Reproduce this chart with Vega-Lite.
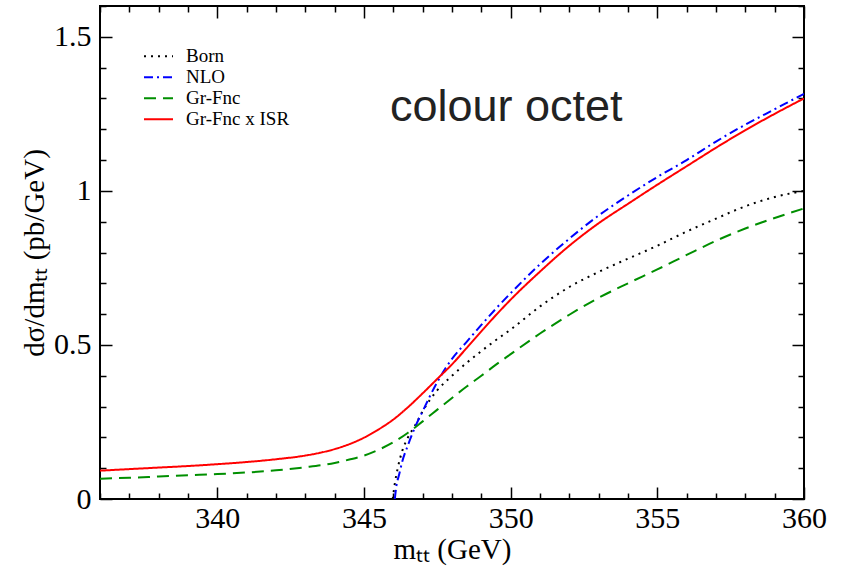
{
  "$schema": "https://vega.github.io/schema/vega-lite/v6.json",
  "autosize": {"type": "none"},
  "width": 704,
  "height": 493,
  "padding": {"left": 100, "top": 6, "right": 39, "bottom": 71},
  "background": "white",
  "config": {
    "view": {"stroke": "black", "strokeWidth": 2},
    "axis": {"grid": false, "domain": false, "tickColor": "black", "tickWidth": 1.5,
             "labelFont": "Liberation Serif", "labelFontSize": 30, "labelColor": "black",
             "titleFont": "Liberation Serif", "titleFontSize": 29, "titleFontWeight": "normal", "titleColor": "black"},
    "legend": {"labelFont": "Liberation Serif", "labelFontSize": 19, "labelColor": "black"}
  },
  "datasets": {
    "curves": [
      {"series": "Born", "m": 345.98, "v": 0.0},
      {"series": "Born", "m": 346.05, "v": 0.05},
      {"series": "Born", "m": 346.15, "v": 0.10},
      {"series": "Born", "m": 346.3, "v": 0.155},
      {"series": "Born", "m": 346.5, "v": 0.20},
      {"series": "Born", "m": 346.75, "v": 0.24},
      {"series": "Born", "m": 347.0, "v": 0.285},
      {"series": "Born", "m": 347.5, "v": 0.353},
      {"series": "Born", "m": 348.0, "v": 0.40},
      {"series": "Born", "m": 348.5, "v": 0.442},
      {"series": "Born", "m": 349.0, "v": 0.48},
      {"series": "Born", "m": 349.5, "v": 0.516},
      {"series": "Born", "m": 350.0, "v": 0.55},
      {"series": "Born", "m": 351.0, "v": 0.625},
      {"series": "Born", "m": 352.0, "v": 0.688},
      {"series": "Born", "m": 353.0, "v": 0.737},
      {"series": "Born", "m": 354.0, "v": 0.78},
      {"series": "Born", "m": 355.0, "v": 0.822},
      {"series": "Born", "m": 356.0, "v": 0.868},
      {"series": "Born", "m": 357.0, "v": 0.91},
      {"series": "Born", "m": 358.0, "v": 0.95},
      {"series": "Born", "m": 359.0, "v": 0.98},
      {"series": "Born", "m": 360.0, "v": 1.0},

      {"series": "NLO", "m": 346.05, "v": 0.0},
      {"series": "NLO", "m": 346.1, "v": 0.04},
      {"series": "NLO", "m": 346.2, "v": 0.08},
      {"series": "NLO", "m": 346.3, "v": 0.12},
      {"series": "NLO", "m": 346.5, "v": 0.175},
      {"series": "NLO", "m": 346.75, "v": 0.235},
      {"series": "NLO", "m": 347.0, "v": 0.285},
      {"series": "NLO", "m": 347.5, "v": 0.38},
      {"series": "NLO", "m": 348.0, "v": 0.455},
      {"series": "NLO", "m": 348.5, "v": 0.51},
      {"series": "NLO", "m": 349.0, "v": 0.565},
      {"series": "NLO", "m": 349.5, "v": 0.618},
      {"series": "NLO", "m": 350.0, "v": 0.668},
      {"series": "NLO", "m": 351.0, "v": 0.762},
      {"series": "NLO", "m": 352.0, "v": 0.845},
      {"series": "NLO", "m": 353.0, "v": 0.92},
      {"series": "NLO", "m": 354.0, "v": 0.985},
      {"series": "NLO", "m": 355.0, "v": 1.045},
      {"series": "NLO", "m": 356.0, "v": 1.10},
      {"series": "NLO", "m": 357.0, "v": 1.16},
      {"series": "NLO", "m": 358.0, "v": 1.215},
      {"series": "NLO", "m": 359.0, "v": 1.265},
      {"series": "NLO", "m": 360.0, "v": 1.315},

      {"series": "Gr-Fnc", "m": 336.0, "v": 0.066},
      {"series": "Gr-Fnc", "m": 337.0, "v": 0.069},
      {"series": "Gr-Fnc", "m": 338.0, "v": 0.073},
      {"series": "Gr-Fnc", "m": 339.0, "v": 0.077},
      {"series": "Gr-Fnc", "m": 340.0, "v": 0.081},
      {"series": "Gr-Fnc", "m": 341.0, "v": 0.086},
      {"series": "Gr-Fnc", "m": 342.0, "v": 0.093},
      {"series": "Gr-Fnc", "m": 343.0, "v": 0.103},
      {"series": "Gr-Fnc", "m": 344.0, "v": 0.117},
      {"series": "Gr-Fnc", "m": 344.5, "v": 0.128},
      {"series": "Gr-Fnc", "m": 345.0, "v": 0.141},
      {"series": "Gr-Fnc", "m": 345.5, "v": 0.16},
      {"series": "Gr-Fnc", "m": 346.0, "v": 0.184},
      {"series": "Gr-Fnc", "m": 346.5, "v": 0.215},
      {"series": "Gr-Fnc", "m": 347.0, "v": 0.252},
      {"series": "Gr-Fnc", "m": 347.5, "v": 0.29},
      {"series": "Gr-Fnc", "m": 348.0, "v": 0.328},
      {"series": "Gr-Fnc", "m": 348.5, "v": 0.365},
      {"series": "Gr-Fnc", "m": 349.0, "v": 0.40},
      {"series": "Gr-Fnc", "m": 349.5, "v": 0.436},
      {"series": "Gr-Fnc", "m": 350.0, "v": 0.47},
      {"series": "Gr-Fnc", "m": 351.0, "v": 0.537},
      {"series": "Gr-Fnc", "m": 352.0, "v": 0.598},
      {"series": "Gr-Fnc", "m": 353.0, "v": 0.653},
      {"series": "Gr-Fnc", "m": 354.0, "v": 0.70},
      {"series": "Gr-Fnc", "m": 355.0, "v": 0.745},
      {"series": "Gr-Fnc", "m": 356.0, "v": 0.792},
      {"series": "Gr-Fnc", "m": 357.0, "v": 0.838},
      {"series": "Gr-Fnc", "m": 358.0, "v": 0.878},
      {"series": "Gr-Fnc", "m": 359.0, "v": 0.912},
      {"series": "Gr-Fnc", "m": 360.0, "v": 0.943},

      {"series": "Gr-Fnc x ISR", "m": 336.0, "v": 0.092},
      {"series": "Gr-Fnc x ISR", "m": 337.0, "v": 0.097},
      {"series": "Gr-Fnc x ISR", "m": 338.0, "v": 0.102},
      {"series": "Gr-Fnc x ISR", "m": 339.0, "v": 0.107},
      {"series": "Gr-Fnc x ISR", "m": 340.0, "v": 0.113},
      {"series": "Gr-Fnc x ISR", "m": 341.0, "v": 0.120},
      {"series": "Gr-Fnc x ISR", "m": 342.0, "v": 0.129},
      {"series": "Gr-Fnc x ISR", "m": 343.0, "v": 0.141},
      {"series": "Gr-Fnc x ISR", "m": 343.5, "v": 0.150},
      {"series": "Gr-Fnc x ISR", "m": 344.0, "v": 0.162},
      {"series": "Gr-Fnc x ISR", "m": 344.5, "v": 0.178},
      {"series": "Gr-Fnc x ISR", "m": 345.0, "v": 0.199},
      {"series": "Gr-Fnc x ISR", "m": 345.5, "v": 0.226},
      {"series": "Gr-Fnc x ISR", "m": 346.0, "v": 0.258},
      {"series": "Gr-Fnc x ISR", "m": 346.5, "v": 0.298},
      {"series": "Gr-Fnc x ISR", "m": 347.0, "v": 0.343},
      {"series": "Gr-Fnc x ISR", "m": 347.5, "v": 0.39},
      {"series": "Gr-Fnc x ISR", "m": 348.0, "v": 0.437},
      {"series": "Gr-Fnc x ISR", "m": 348.5, "v": 0.49},
      {"series": "Gr-Fnc x ISR", "m": 349.0, "v": 0.544},
      {"series": "Gr-Fnc x ISR", "m": 349.5, "v": 0.597},
      {"series": "Gr-Fnc x ISR", "m": 350.0, "v": 0.647},
      {"series": "Gr-Fnc x ISR", "m": 351.0, "v": 0.738},
      {"series": "Gr-Fnc x ISR", "m": 352.0, "v": 0.822},
      {"series": "Gr-Fnc x ISR", "m": 353.0, "v": 0.895},
      {"series": "Gr-Fnc x ISR", "m": 354.0, "v": 0.958},
      {"series": "Gr-Fnc x ISR", "m": 355.0, "v": 1.02},
      {"series": "Gr-Fnc x ISR", "m": 356.0, "v": 1.08},
      {"series": "Gr-Fnc x ISR", "m": 357.0, "v": 1.14},
      {"series": "Gr-Fnc x ISR", "m": 358.0, "v": 1.197},
      {"series": "Gr-Fnc x ISR", "m": 359.0, "v": 1.25},
      {"series": "Gr-Fnc x ISR", "m": 360.0, "v": 1.30}
    ],
    "note": [{"label": "colour octet"}]
  },
  "resolve": {"axis": {"x": "independent", "y": "independent"}},
  "layer": [
    {
      "data": {"name": "curves"},
      "transform": [{"filter": "datum.series === 'Born' || datum.series === 'NLO'"}],
      "mark": {"type": "line", "strokeWidth": 2, "interpolate": "monotone", "clip": true},
      "encoding": {
        "x": {"field": "m", "type": "quantitative",
              "scale": {"domain": [336, 360], "nice": false, "zero": false},
              "axis": {"orient": "bottom", "title": "mₜₜ (GeV)", "values": [340, 345, 350, 355, 360],
                       "tickSize": -12, "labelPadding": 16, "titlePadding": 2, "labelFlush": false}},
        "y": {"field": "v", "type": "quantitative",
              "scale": {"domain": [0, 1.6], "nice": false},
              "axis": {"orient": "left", "title": "dσ/dmₜₜ (pb/GeV)", "format": "~g", "values": [0, 0.5, 1, 1.5],
                       "tickSize": -12, "labelPadding": 21, "titlePadding": 4, "labelFlush": false}},
        "color": {"field": "series", "type": "nominal",
                  "scale": {"domain": ["Born", "NLO", "Gr-Fnc", "Gr-Fnc x ISR"], "range": ["#000000", "#0000ff", "#008f00", "#ff0000"]},
                  "legend": {"title": null, "orient": "none", "legendX": 43, "legendY": 40,
                             "symbolType": "stroke", "symbolSize": 841, "symbolStrokeWidth": 2,
                             "labelOffset": 12, "rowPadding": 0, "clipHeight": 20.5}},
        "strokeDash": {"field": "series", "type": "nominal",
                  "scale": {"domain": ["Born", "NLO", "Gr-Fnc", "Gr-Fnc x ISR"], "range": [[2, 5], [9, 4, 2, 4], [12, 7], [1, 0]]},
                  "legend": {"title": null, "orient": "none", "legendX": 43, "legendY": 40,
                             "symbolType": "stroke", "symbolSize": 841, "symbolStrokeWidth": 2,
                             "labelOffset": 12, "rowPadding": 0, "clipHeight": 20.5}}
      }
    },
    {
      "data": {"name": "curves"},
      "transform": [{"filter": "datum.series === 'Gr-Fnc'"}],
      "mark": {"type": "line", "strokeWidth": 2, "interpolate": "monotone", "clip": true},
      "encoding": {
        "x": {"field": "m", "type": "quantitative",
              "axis": {"orient": "bottom", "title": null, "labels": false,
                       "values": [336,337,338,339,341,342,343,344,346,347,348,349,351,352,353,354,356,357,358,359],
                       "tickSize": -6}},
        "y": {"field": "v", "type": "quantitative",
              "axis": {"orient": "left", "title": null, "labels": false,
                       "values": [0.1,0.2,0.3,0.4,0.6,0.7,0.8,0.9,1.1,1.2,1.3,1.4,1.6],
                       "tickSize": -6}},
        "color": {"field": "series", "type": "nominal"},
        "strokeDash": {"field": "series", "type": "nominal"}
      }
    },
    {
      "data": {"name": "curves"},
      "transform": [{"filter": "datum.series === 'Gr-Fnc x ISR'"}],
      "mark": {"type": "line", "strokeWidth": 2, "interpolate": "monotone", "clip": true},
      "encoding": {
        "x": {"field": "m", "type": "quantitative",
              "axis": {"orient": "top", "title": null, "labels": false, "values": [340, 345, 350, 355, 360], "tickSize": -12}},
        "y": {"field": "v", "type": "quantitative",
              "axis": {"orient": "right", "title": null, "labels": false, "values": [0, 0.5, 1, 1.5], "tickSize": -12}},
        "color": {"field": "series", "type": "nominal"},
        "strokeDash": {"field": "series", "type": "nominal"}
      }
    },
    {
      "data": {"name": "note"},
      "mark": {"type": "text", "font": "Liberation Sans", "fontSize": 45, "color": "#222222", "align": "center", "baseline": "alphabetic"},
      "encoding": {
        "x": {"datum": 349.85, "type": "quantitative",
              "axis": {"orient": "top", "title": null, "labels": false,
                       "values": [336,337,338,339,341,342,343,344,346,347,348,349,351,352,353,354,356,357,358,359],
                       "tickSize": -6}},
        "y": {"datum": 1.227, "type": "quantitative",
              "axis": {"orient": "right", "title": null, "labels": false,
                       "values": [0.1,0.2,0.3,0.4,0.6,0.7,0.8,0.9,1.1,1.2,1.3,1.4,1.6],
                       "tickSize": -6}},
        "text": {"field": "label"}
      }
    }
  ]
}
